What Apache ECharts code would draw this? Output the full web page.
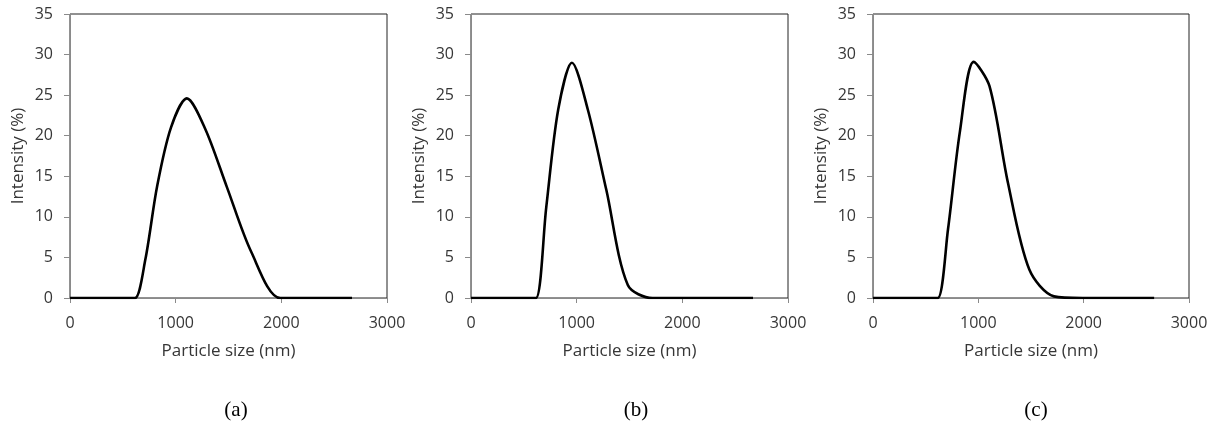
<!DOCTYPE html>
<html>
<head>
<meta charset="utf-8">
<script src="https://cdn.jsdelivr.net/npm/echarts@6/dist/echarts.min.js"></script>
<style>
html,body{margin:0;padding:0;background:#fff;}
#c{width:1216px;height:426px;}
</style>
</head>
<body>
<div id="c"></div>
<script>
// Particle size classes (nm)
const sizes = [0.4, 50.75, 105.7, 190.1, 295.3, 396.1, 458.7, 531.2, 615.1, 712.4, 825.0, 955.4, 1106, 1281, 1484, 1718, 1990, 2305, 2669];
// Intensity (%) per panel
const intensityA = [0, 0, 0, 0, 0, 0, 0, 0, 0, 4.7, 13.8, 21.0, 24.6, 20.8, 13.7, 5.6, 0, 0, 0];
const intensityB = [0, 0, 0, 0, 0, 0, 0, 0, 0, 11.2, 23.2, 29.0, 23.2, 13.3, 1.6, 0, 0, 0, 0];
const intensityC = [0, 0, 0, 0, 0, 0, 0, 0, 0, 8.5, 20.5, 29.1, 26.1, 14.2, 3.5, 0.2, 0, 0, 0];
const panelLabels = ['(a)', '(b)', '(c)'];
const xName = 'Particle size (nm)';
const yName = 'Intensity (%)';

const panels = [intensityA, intensityB, intensityC];
const lefts = [70, 471, 873];
const widths = [317, 317, 316];
const labelCenters = [231, 631, 1031];
const font = '"Open Sans", Lato, sans-serif';
const txt = '#363636';

const grids = [], xAxes = [], yAxes = [], series = [], titles = [];
panels.forEach((vals, i) => {
  grids.push({left: lefts[i], top: 14, width: widths[i], height: 284, show: true,
    borderColor: '#222', borderWidth: 1, backgroundColor: 'transparent'});
  xAxes.push({type: 'value', gridIndex: i, min: 0, max: 3000, interval: 1000,
    name: xName, nameLocation: 'middle', nameGap: 45,
    nameTextStyle: {fontFamily: font, fontSize: 17, color: txt},
    axisLine: {show: true, onZero: false, lineStyle: {color: '#8a8a8a', width: 1}},
    axisTick: {show: true, inside: false, length: 5, lineStyle: {color: '#8a8a8a'}},
    axisLabel: {fontFamily: font, fontSize: 16, color: txt, margin: 17,
      formatter: v => String(v)},
    splitLine: {show: false}});
  yAxes.push({type: 'value', gridIndex: i, min: 0, max: 35, interval: 5,
    name: yName, nameLocation: 'middle', nameGap: 43, nameRotate: 90,
    nameTextStyle: {fontFamily: font, fontSize: 17, color: txt},
    axisLine: {show: true, lineStyle: {color: '#8a8a8a', width: 1}},
    axisTick: {show: true, inside: false, length: 6, lineStyle: {color: '#8a8a8a'}},
    axisLabel: {fontFamily: font, fontSize: 16, color: txt, margin: 17},
    splitLine: {show: false}});
  series.push({type: 'line', xAxisIndex: i, yAxisIndex: i,
    data: sizes.map((s, k) => [s, vals[k]]),
    smooth: 0.3, symbol: 'none', clip: true,
    lineStyle: {color: '#000', width: 2.6}});
  titles.push({text: panelLabels[i], left: labelCenters[i], top: 395,
    textAlign: 'center',
    textStyle: {fontFamily: '"Liberation Serif", "Times New Roman", serif', fontSize: 21, fontWeight: 'normal', color: '#000'}});
});

const chart = echarts.init(document.getElementById('c'), null, {renderer: 'canvas'});
chart.setOption({animation: false, backgroundColor: '#fff', title: titles,
  grid: grids, xAxis: xAxes, yAxis: yAxes, series: series});
</script>
</body>
</html>
